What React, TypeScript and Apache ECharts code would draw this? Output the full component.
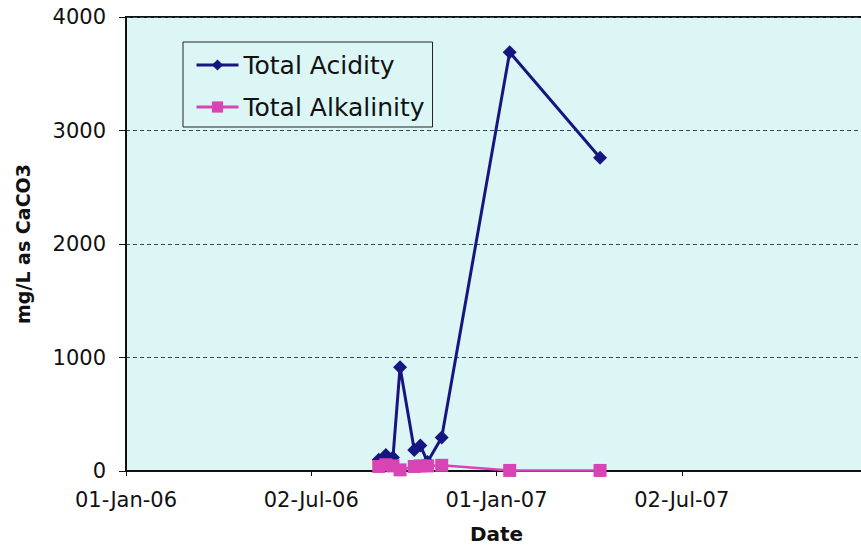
import React, { useEffect, useRef } from "react";
import * as echarts from "echarts";

const sampleDates = [
  "2006-09-07", "2006-09-14", "2006-09-21", "2006-09-28", "2006-10-12",
  "2006-10-18", "2006-10-25", "2006-11-08", "2007-01-14", "2007-04-13",
];
const totalAcidity = [100, 140, 120, 915, 185, 225, 80, 295, 3690, 2760];
const totalAlkalinity = [40, 55, 45, 10, 40, 45, 45, 50, 5, 5];
const seriesNames = ["Total Acidity", "Total Alkalinity"];
const yTicks = [0, 1000, 2000, 3000, 4000];

const EPOCH = Date.UTC(2006, 0, 1);
const DAY = 86400000;
const MONTHS = ["Jan", "Feb", "Mar", "Apr", "May", "Jun", "Jul", "Aug", "Sep", "Oct", "Nov", "Dec"];

function toDay(s: string): number {
  const [y, m, d] = s.split("-").map(Number);
  return (Date.UTC(y, m - 1, d) - EPOCH) / DAY;
}
function fmtDay(v: number): string {
  const dt = new Date(EPOCH + Math.floor(v) * DAY);
  const dd = String(dt.getUTCDate()).padStart(2, "0");
  const yy = String(dt.getUTCFullYear() % 100).padStart(2, "0");
  return `${dd}-${MONTHS[dt.getUTCMonth()]}-${yy}`;
}

export default function App() {
  const ref = useRef<HTMLDivElement>(null);
  useEffect(() => {
    if (!ref.current) return;
    const chart = echarts.init(ref.current, null, { renderer: "svg" });
    const font = "DejaVu Sans, Liberation Sans, Arial, sans-serif";
    chart.setOption({
      animation: false,
      backgroundColor: "#ffffff",
      textStyle: { fontFamily: font },
      grid: {
        left: 126,
        top: 17,
        right: -6,
        bottom: 78,
        show: true,
        backgroundColor: "#dcf6f6",
        borderColor: "#111",
        borderWidth: 2,
        containLabel: false,
        outerBoundsMode: "none",
      },
      legend: {
        left: 183,
        top: 42,
        orient: "vertical",
        data: seriesNames,
        itemWidth: 42,
        itemHeight: 14,
        itemGap: 16,
        padding: [10, 8, 7, 12],
        borderColor: "#222",
        borderWidth: 1,
        backgroundColor: "#dcf6f6",
        lineStyle: { width: 3 },
        textStyle: { fontSize: 25, lineHeight: 26, color: "#111", fontFamily: font },
      },
      xAxis: {
        type: "value",
        min: 0,
        max: 730,
        interval: 182.5,
        name: "Date",
        nameLocation: "middle",
        nameGap: 53,
        nameTextStyle: { fontSize: 20, fontWeight: "bold", color: "#111", fontFamily: font },
        axisLine: { show: true, lineStyle: { color: "#111", width: 2 } },
        axisTick: { show: true, length: 5, lineStyle: { color: "#111" } },
        axisLabel: {
          fontSize: 21,
          color: "#111",
          margin: 18,
          showMaxLabel: false,
          formatter: (v: number) => fmtDay(v),
        },
        splitLine: { show: false },
      },
      yAxis: {
        type: "value",
        min: yTicks[0],
        max: yTicks[yTicks.length - 1],
        interval: 1000,
        name: "mg/L as CaCO3",
        nameLocation: "middle",
        nameGap: 94,
        nameRotate: 90,
        nameTextStyle: { fontSize: 19, fontWeight: "bold", color: "#111", fontFamily: font },
        axisLine: { show: true, lineStyle: { color: "#111", width: 2 } },
        axisTick: { show: true, length: 7, lineStyle: { color: "#111" } },
        axisLabel: { fontSize: 21, color: "#111", margin: 20, formatter: (v: number) => String(v) },
        splitLine: { show: true, lineStyle: { color: "#2f5060", type: [4, 3], width: 1 } },
      },
      series: [
        {
          name: seriesNames[0],
          type: "line",
          data: sampleDates.map((d, i) => [toDay(d), totalAcidity[i]]),
          symbol: "diamond",
          symbolSize: 14,
          itemStyle: { color: "#161680" },
          lineStyle: { color: "#161680", width: 3 },
          z: 2,
        },
        {
          name: seriesNames[1],
          type: "line",
          data: sampleDates.map((d, i) => [toDay(d), totalAlkalinity[i]]),
          symbol: "rect",
          symbolSize: 13,
          itemStyle: { color: "#d944b4" },
          lineStyle: { color: "#d944b4", width: 2.5 },
          z: 3,
        },
      ],
    });
    return () => chart.dispose();
  }, []);
  return <div ref={ref} style={{ width: 861, height: 549, position: "absolute", left: 0, top: 0 }} />;
}
